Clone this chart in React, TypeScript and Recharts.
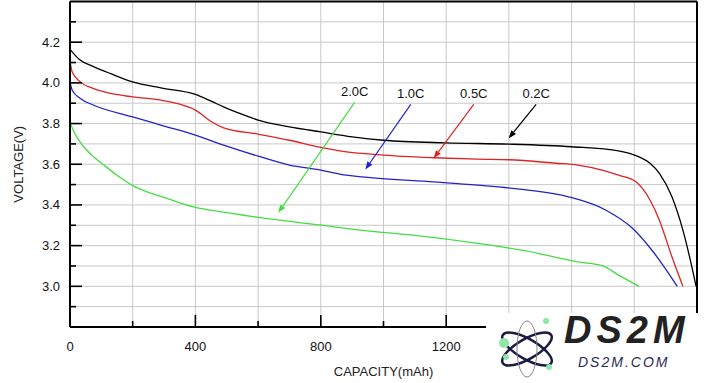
import React from 'react';
import { LineChart, Line, XAxis, YAxis, CartesianGrid, ReferenceLine } from 'recharts';

// ---- data (capacity in mAh, voltage in V) ----
const cap02 = [0, 30, 75, 130, 200, 290, 400, 450, 490, 550, 600, 700, 800, 900, 1000, 1200, 1400, 1600, 1750, 1815, 1850, 1880, 1920, 1955, 1980, 1997];
const volt02 = [4.165, 4.115, 4.08, 4.045, 4.005, 3.975, 3.943, 3.91, 3.882, 3.845, 3.817, 3.784, 3.759, 3.735, 3.718, 3.705, 3.699, 3.686, 3.666, 3.636, 3.605, 3.555, 3.44, 3.276, 3.12, 3.0];

const cap05 = [0, 7, 33, 76, 130, 200, 290, 350, 400, 450, 490, 600, 700, 800, 860, 1000, 1160, 1300, 1400, 1550, 1620, 1700, 1750, 1805, 1826, 1880, 1920, 1955];
const volt05 = [4.11, 4.054, 4.005, 3.972, 3.948, 3.931, 3.915, 3.895, 3.866, 3.81, 3.779, 3.748, 3.718, 3.683, 3.666, 3.645, 3.632, 3.625, 3.622, 3.605, 3.596, 3.57, 3.546, 3.514, 3.481, 3.325, 3.145, 3.0];

const cap10 = [0, 7, 33, 76, 200, 300, 400, 490, 600, 700, 800, 860, 950, 1160, 1300, 1450, 1590, 1710, 1795, 1860, 1937];
const volt10 = [4.005, 3.964, 3.923, 3.89, 3.833, 3.788, 3.743, 3.694, 3.64, 3.596, 3.571, 3.551, 3.535, 3.513, 3.497, 3.475, 3.44, 3.374, 3.284, 3.17, 3.0];

const cap20 = [0, 18, 44, 76, 108, 150, 200, 250, 290, 400, 450, 600, 800, 925, 1100, 1300, 1450, 1620, 1700, 1750, 1815];
const volt20 = [3.803, 3.743, 3.686, 3.636, 3.596, 3.546, 3.495, 3.462, 3.442, 3.388, 3.374, 3.339, 3.301, 3.276, 3.25, 3.211, 3.175, 3.12, 3.1, 3.055, 3.0];

const xTicks = [0, 200, 400, 600, 800, 1000, 1200, 1400, 1600, 1800, 2000];
const xMajorTicks = [0, 400, 800, 1200, 1600, 2000];
const xLabelTicks = [0, 400, 800, 1200];
const yTicks = [2.8, 2.9, 3.0, 3.1, 3.2, 3.3, 3.4, 3.5, 3.6, 3.7, 3.8, 3.9, 4.0, 4.1, 4.2, 4.3, 4.4];
const yLabelTicks = ['3.0', '3.2', '3.4', '3.6', '3.8', '4.0', '4.2'];

const rateLabels = ['2.0C', '1.0C', '0.5C', '0.2C'];
const rateColors = ['#44dd44', '#2222cc', '#e02222', '#000000'];
// annotation arrows: [startCapacity, startVoltage, endCapacity, endVoltage]
const arrowSegments = [
  [908, 3.904, 664, 3.361],
  [1087, 3.894, 942, 3.574],
  [1288, 3.894, 1160, 3.629],
  [1487, 3.894, 1399, 3.727],
];

const zip = (xs: number[], ys: number[]) => xs.map((c, i) => ({ cap: c, v: ys[i] }));
const series = [
  { name: '0.2C', color: '#000000', data: zip(cap02, volt02) },
  { name: '0.5C', color: '#e02222', data: zip(cap05, volt05) },
  { name: '1.0C', color: '#2222cc', data: zip(cap10, volt10) },
  { name: '2.0C', color: '#44dd44', data: zip(cap20, volt20) },
];

const FONT = '"Liberation Sans", Arial, sans-serif';

const XTick = (props: any) => {
  const { x, y, payload } = props;
  const v = payload.value as number;
  const major = xMajorTicks.includes(v);
  const showLine = v !== 0 && v !== 2000;
  return (
    <g>
      {showLine && <line x1={x} x2={x} y1={y} y2={y - (major ? 12 : 6)} stroke="#000" strokeWidth={1.6} />}
      {xLabelTicks.includes(v) && (
        <text x={x} y={y + 19} textAnchor="middle" dominantBaseline="central" fontSize={13} fontFamily={FONT} fill="#111">{v}</text>
      )}
    </g>
  );
};

const YTick = (props: any) => {
  const { x, y, payload } = props;
  const v = payload.value as number;
  const label = v.toFixed(1);
  if (label === '2.8' || label === '4.4') return <g />;
  const major = yLabelTicks.includes(label);
  return (
    <g>
      <line x1={x} x2={x + (major ? 12 : 6)} y1={y} y2={y} stroke="#000" strokeWidth={1.6} />
      {major && (
        <text x={x - 10} y={y} textAnchor="end" dominantBaseline="central" fontSize={13} fontFamily={FONT} fill="#111">{label}</text>
      )}
    </g>
  );
};

const makeArrow = (color: string, text: string) => (p: any) => {
  const { x1, y1, x2, y2 } = p;
  const ang = Math.atan2(y2 - y1, x2 - x1);
  const L = 8;
  const W = 3;
  const bx = x2 - L * Math.cos(ang);
  const by = y2 - L * Math.sin(ang);
  const px = -Math.sin(ang) * W;
  const py = Math.cos(ang) * W;
  return (
    <g>
      <line x1={x1} y1={y1} x2={bx} y2={by} stroke={color} strokeWidth={1.2} />
      <polygon points={`${x2},${y2} ${bx + px},${by + py} ${bx - px},${by - py}`} fill={color} />
      <text x={x1} y={y1 - 11} textAnchor="middle" dominantBaseline="central" fontSize={13} fontFamily={FONT} fill="#111">{text}</text>
    </g>
  );
};

const Watermark = () => (
  <div style={{ position: 'absolute', left: 486, top: 313, width: 234, height: 70, background: '#fff' }}>
    <svg width={80} height={70} style={{ position: 'absolute', left: 8, top: 0 }}>
      <g transform="translate(33,36)" fill="none" stroke="#1b1b44" strokeWidth={2.5}>
        <ellipse rx={28} ry={10} transform="rotate(30)" />
        <ellipse rx={28} ry={10} transform="rotate(-30)" />
        <ellipse rx={28} ry={10} transform="rotate(90)" stroke="#888" strokeWidth={1} />
      </g>
      <circle cx={10} cy={30} r={5} fill="#8fe6a8" />
      <circle cx={52} cy={8} r={3} fill="#8fe6a8" />
      <circle cx={12} cy={44} r={3} fill="#8fe6a8" />
      <circle cx={55} cy={54} r={3} fill="#8fe6a8" />
    </svg>
    <div style={{ position: 'absolute', left: 78, top: -4, fontFamily: FONT, fontWeight: 'bold', fontStyle: 'italic', fontSize: 38, color: '#222', letterSpacing: 5 }}>DS2M</div>
    <div style={{ position: 'absolute', left: 92, top: 41, fontFamily: FONT, fontStyle: 'italic', fontSize: 14, color: '#2a2a5a', letterSpacing: 2 }}>DS2M.COM</div>
  </div>
);

export default function App() {
  return (
    <div style={{ position: 'absolute', left: 0, top: 0, width: 720, height: 383, background: '#fff' }}>
      <LineChart width={720} height={383} margin={{ top: 1.5, right: 23, bottom: 0, left: 0 }}>
        <CartesianGrid stroke="#c8c8c8" strokeWidth={1} />
        <XAxis
          dataKey="cap"
          type="number"
          domain={[0, 2000]}
          ticks={xTicks}
          interval={0}
          tickSize={0}
          tickMargin={0}
          tickLine={false}
          height={56}
          axisLine={{ stroke: '#000', strokeWidth: 2 }}
          tick={<XTick />}
          allowDataOverflow
          label={(lp: any) => {
            const vb = lp.viewBox || {};
            return (
              <text x={vb.x + vb.width / 2} y={371} textAnchor="middle" dominantBaseline="central" fontSize={13} fontFamily={FONT} fill="#222">CAPACITY(mAh)</text>
            );
          }}
        />
        <YAxis
          type="number"
          domain={[2.8, 4.4]}
          ticks={yTicks}
          interval={0}
          tickSize={0}
          tickMargin={0}
          tickLine={false}
          width={70}
          axisLine={{ stroke: '#000', strokeWidth: 2 }}
          tick={<YTick />}
          allowDataOverflow
          label={(lp: any) => {
            const vb = lp.viewBox || {};
            const cx = 18;
            const cy = vb.y + vb.height / 2;
            return (
              <text x={cx} y={cy} textAnchor="middle" dominantBaseline="central" fontSize={13} fontFamily={FONT} fill="#222" transform={`rotate(-90 ${cx} ${cy})`}>VOLTAGE(V)</text>
            );
          }}
        />
        <ReferenceLine y={4.4} stroke="#000" strokeWidth={2} />
        <ReferenceLine x={2000} stroke="#000" strokeWidth={2} />
        {series.map((s) => (
          <Line
            key={s.name}
            data={s.data}
            dataKey="v"
            type="monotone"
            stroke={s.color}
            strokeWidth={1.3}
            dot={false}
            activeDot={false}
            isAnimationActive={false}
          />
        ))}
        {arrowSegments.map((seg, i) => (
          <ReferenceLine
            key={rateLabels[i]}
            segment={[{ x: seg[0], y: seg[1] }, { x: seg[2], y: seg[3] }]}
            shape={makeArrow(rateColors[i], rateLabels[i])}
          />
        ))}
      </LineChart>
      <Watermark />
    </div>
  );
}
